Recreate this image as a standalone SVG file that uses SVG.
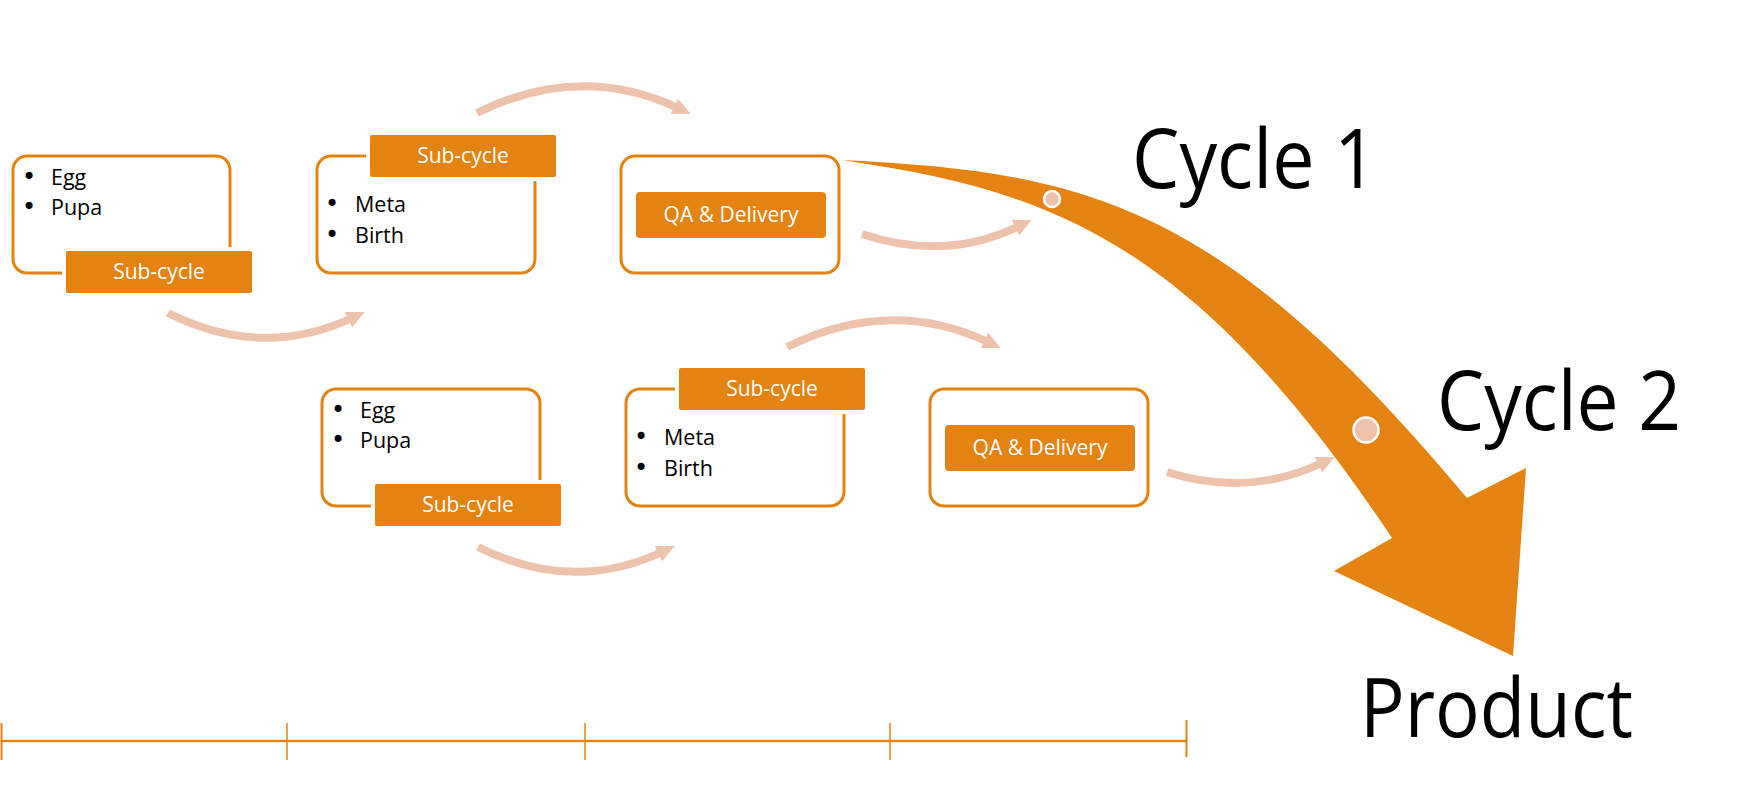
<svg xmlns="http://www.w3.org/2000/svg" width="1737" height="812" viewBox="0 0 1737 812">
  <style>
    .box { fill: #FFFFFF; stroke: #E48312; stroke-width: 3; }
    .lab { fill: #E48312; stroke: #FFFFFF; stroke-width: 4; }
    .qa { fill: #E48312; }
    .lt { font-family: "Open Sans", "Noto Sans", sans-serif; font-size: 21px; fill: #FFFFFF; text-anchor: middle; }
    .bt { font-family: "Open Sans", "Noto Sans", sans-serif; font-size: 21.5px; fill: #000000; }
    .bl { font-family: "DejaVu Sans", sans-serif; font-size: 24px; fill: #000000; text-anchor: middle; }
    .big { font-family: "Open Sans", "Noto Sans", sans-serif; font-size: 82px; fill: #000000; }
    .pale { fill: none; stroke: #EFC2AB; stroke-width: 8; marker-end: url(#ah); }
    .dot { fill: #EFC2AB; stroke: #FFFFFF; stroke-width: 2.5; }
    .tl { stroke: #E48312; fill: none; }
  </style>
  <defs>
    <marker id="ah" markerUnits="userSpaceOnUse" viewBox="0 -10 20 20" markerWidth="20" markerHeight="20" refX="4" refY="0" orient="auto">
      <path d="M0,-8.5 L18,0 L0,8.5 Z" fill="#EFC2AB"/>
    </marker>
  </defs>
  <rect width="1737" height="812" fill="#FFFFFF"/>

  <!-- big cycle arrow -->
  <g id="main-arrow">
    <path fill="#E48312" d="M842,160 C1088,172 1221,203 1467,498 L1526,468 L1513,656 L1334,571 L1392,538 C1189,233.5 1045,190.5 842,160 Z"/>
    <circle class="dot" cx="1052" cy="199" r="8"/>
    <circle class="dot" cx="1366" cy="430" r="12.5"/>
  </g>

  <!-- top row -->
  <g id="n1">
    <rect class="box" x="13" y="156" width="217" height="117" rx="14"/>
    <text class="bl" x="29" y="185">•</text><text class="bt" x="51" y="185">Egg</text>
    <text class="bl" x="29" y="215">•</text><text class="bt" x="51" y="215">Pupa</text>
    <rect class="lab" x="64" y="249" width="190" height="46" rx="4"/>
    <text class="lt" x="159" y="279">Sub-cycle</text>
  </g>
  <g id="n2">
    <rect class="box" x="317" y="156" width="218" height="117" rx="14"/>
    <rect class="lab" x="368" y="133" width="190" height="46" rx="4"/>
    <text class="lt" x="463" y="163">Sub-cycle</text>
    <text class="bl" x="332" y="212">•</text><text class="bt" x="355" y="212">Meta</text>
    <text class="bl" x="332" y="243">•</text><text class="bt" x="355" y="243">Birth</text>
  </g>
  <g id="n3">
    <rect class="box" x="621" y="156" width="218" height="117" rx="14"/>
    <rect class="qa" x="636" y="192" width="190" height="46" rx="4"/>
    <text class="lt" x="731" y="222">QA &amp; Delivery</text>
  </g>

  <!-- bottom row -->
  <g id="n4">
    <rect class="box" x="322" y="389" width="218" height="117" rx="14"/>
    <text class="bl" x="338" y="418">•</text><text class="bt" x="360" y="418">Egg</text>
    <text class="bl" x="338" y="448">•</text><text class="bt" x="360" y="448">Pupa</text>
    <rect class="lab" x="373" y="482" width="190" height="46" rx="4"/>
    <text class="lt" x="468" y="512">Sub-cycle</text>
  </g>
  <g id="n5">
    <rect class="box" x="626" y="389" width="218" height="117" rx="14"/>
    <rect class="lab" x="677" y="366" width="190" height="46" rx="4"/>
    <text class="lt" x="772" y="396">Sub-cycle</text>
    <text class="bl" x="641" y="445">•</text><text class="bt" x="664" y="445">Meta</text>
    <text class="bl" x="641" y="476">•</text><text class="bt" x="664" y="476">Birth</text>
  </g>
  <g id="n6">
    <rect class="box" x="930" y="389" width="218" height="117" rx="14"/>
    <rect class="qa" x="945" y="425" width="190" height="46" rx="4"/>
    <text class="lt" x="1040" y="455">QA &amp; Delivery</text>
  </g>

  <!-- connectors -->
  <g id="connectors">
    <path class="pale" d="M168,313 Q262,360 352,318"/>
    <path class="pale" d="M477,113 Q580,62 678,108"/>
    <path class="pale" d="M862,234 Q945,262 1019,226"/>
    <path class="pale" d="M478,547 Q572,594 662,552"/>
    <path class="pale" d="M787,347 Q890,296 988,342"/>
    <path class="pale" d="M1167,472 Q1248,498 1322,463"/>
  </g>

  <!-- labels -->
  <g id="cycle1"><text class="big" x="1132" y="188" textLength="245" lengthAdjust="spacingAndGlyphs">Cycle 1</text></g>
  <g id="cycle2"><text class="big" x="1437" y="430" textLength="244" lengthAdjust="spacingAndGlyphs">Cycle 2</text></g>
  <g id="product"><text class="big" x="1360" y="737" textLength="273" lengthAdjust="spacingAndGlyphs">Product</text></g>

  <!-- timeline -->
  <g id="timeline">
    <line class="tl" x1="1" y1="741" x2="1187" y2="741" stroke-width="2.5"/>
    <line class="tl" x1="1.5" y1="723" x2="1.5" y2="760" stroke-width="2"/>
    <line class="tl" x1="287" y1="723" x2="287" y2="760" stroke-width="1.5"/>
    <line class="tl" x1="585" y1="723" x2="585" y2="760" stroke-width="1.5"/>
    <line class="tl" x1="890" y1="723" x2="890" y2="760" stroke-width="1.5"/>
    <line class="tl" x1="1186.5" y1="720" x2="1186.5" y2="757" stroke-width="2"/>
  </g>
</svg>
